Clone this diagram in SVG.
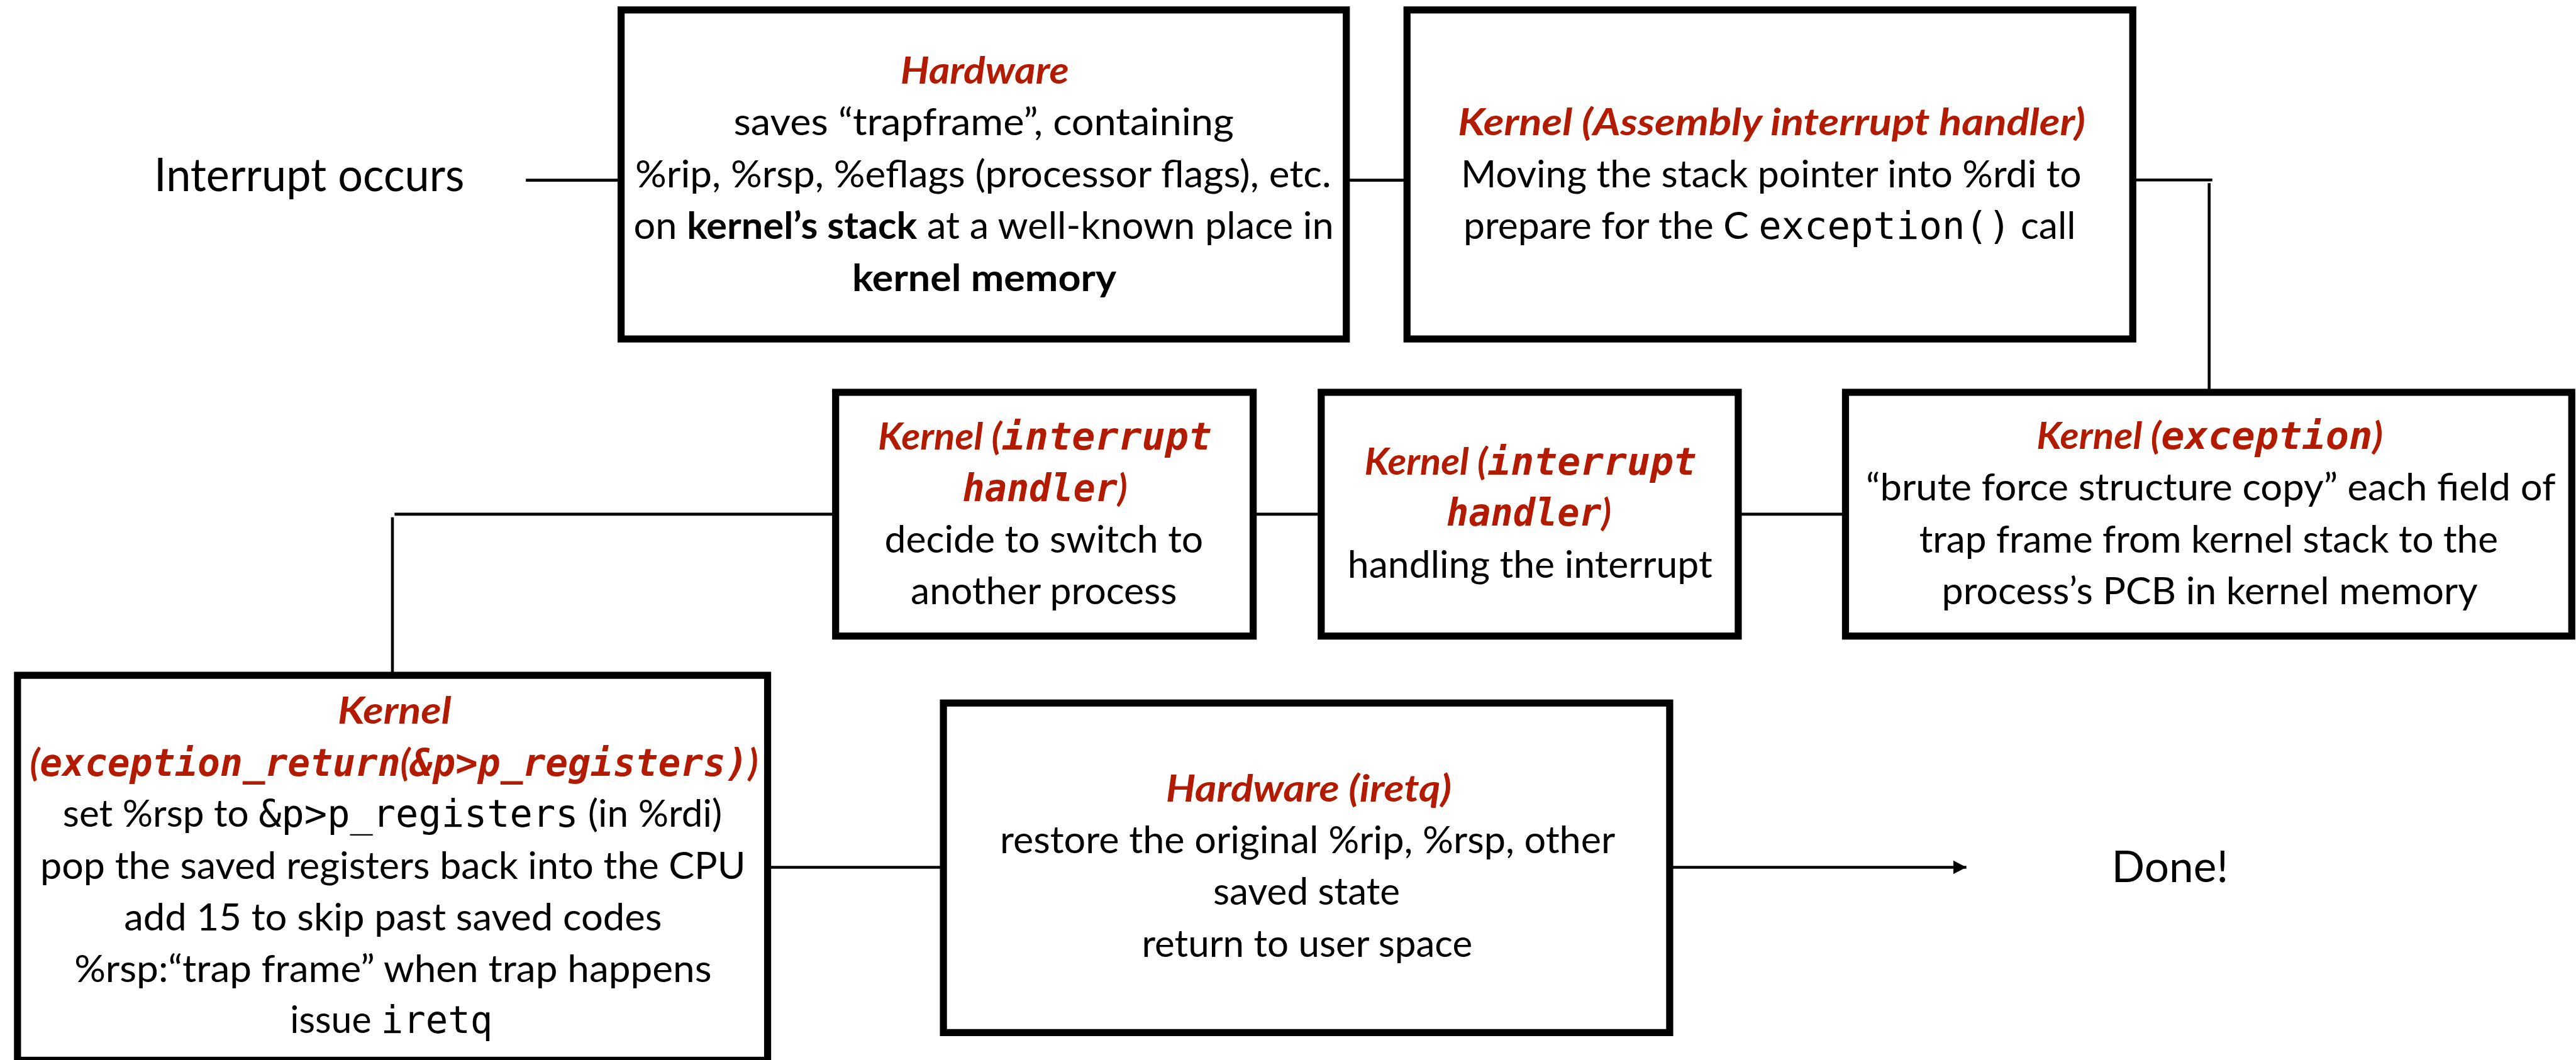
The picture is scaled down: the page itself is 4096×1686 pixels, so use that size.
<svg xmlns="http://www.w3.org/2000/svg" width="4096" height="1686" viewBox="0 0 4096 1686">
<style>
.box{fill:#fff;stroke:#000;stroke-width:13.5}
.conn{stroke:#000;stroke-width:5.5;fill:none}
.t{font-family:Lato,'Liberation Sans',sans-serif;font-size:72px;fill:#000;text-anchor:middle}
.big{font-size:88px}
.h{fill:#B31B00;font-weight:bold;font-style:italic}
.m{font-family:'DejaVu Sans Mono','Liberation Mono',monospace}
.b{font-weight:bold}
</style>
<defs>
<marker id="arr" markerUnits="userSpaceOnUse" markerWidth="25" markerHeight="26" refX="25" refY="13" orient="auto">
<path d="M0,0 L25,13 L0,26 Z" fill="#000"/>
</marker>
</defs>
<rect x="0" y="0" width="4096" height="1686" fill="#fff"/>
<g transform="scale(0.832)">
<g id="connectors">
<line class="conn" x1="1005" y1="344.5" x2="1182" y2="344.5"/>
<line class="conn" x1="2578" y1="344.5" x2="2684" y2="344.5"/>
<line class="conn" x1="4081" y1="344" x2="4228" y2="344"/>
<line class="conn" x1="4222" y1="350" x2="4222" y2="745"/>
<line class="conn" x1="3522" y1="983" x2="3327" y2="983"/>
<line class="conn" x1="2519" y1="983" x2="2400" y2="983"/>
<line class="conn" x1="1591" y1="983" x2="754" y2="983"/>
<line class="conn" x1="750" y1="989" x2="750" y2="1286"/>
<line class="conn" x1="1472" y1="1658" x2="1798" y2="1658"/>
<line class="conn" x1="3196" y1="1658" x2="3758" y2="1658" marker-end="url(#arr)"/>
</g>
<g id="start">
<text class="t big" x="591" y="365" textLength="593" lengthAdjust="spacingAndGlyphs">Interrupt occurs</text>
</g>
<g id="node-hardware">
<rect class="box" x="1187" y="19" width="1386" height="629"/>
<text class="t h" x="1882" y="160" textLength="322" lengthAdjust="spacingAndGlyphs">Hardware</text>
<text class="t" x="1880" y="259" textLength="956" lengthAdjust="spacingAndGlyphs">saves “trapframe”, containing</text>
<text class="t" x="1879" y="358" textLength="1330" lengthAdjust="spacingAndGlyphs">%rip, %rsp, %eflags (processor flags), etc.</text>
<text class="t" x="1880" y="457" textLength="1338" lengthAdjust="spacingAndGlyphs">on <tspan class="b">kernel’s stack</tspan> at a well-known place in</text>
<text class="t b" x="1881" y="556" textLength="505" lengthAdjust="spacingAndGlyphs">kernel memory</text>
</g>
<g id="node-asm">
<rect class="box" x="2689" y="19" width="1387" height="629"/>
<text class="t h" x="3386" y="259" textLength="1199" lengthAdjust="spacingAndGlyphs">Kernel (Assembly interrupt handler)</text>
<text class="t" x="3385" y="358" textLength="1186" lengthAdjust="spacingAndGlyphs">Moving the stack pointer into %rdi to</text>
<text class="t" x="3382" y="457" textLength="1170" lengthAdjust="spacingAndGlyphs">prepare for the C <tspan class="m">exception()</tspan> call</text>
</g>
<g id="node-exception">
<rect class="box" x="3527" y="750" width="1388" height="466"/>
<text class="t h" x="4223" y="858" textLength="662" lengthAdjust="spacingAndGlyphs">Kernel (<tspan class="m">exception</tspan>)</text>
<text class="t" x="4225" y="957" textLength="1318" lengthAdjust="spacingAndGlyphs">“brute force structure copy” each field of</text>
<text class="t" x="4221" y="1056" textLength="1106" lengthAdjust="spacingAndGlyphs">trap frame from kernel stack to the</text>
<text class="t" x="4223" y="1155" textLength="1024" lengthAdjust="spacingAndGlyphs">process’s PCB in kernel memory</text>
</g>
<g id="node-handling">
<rect class="box" x="2525" y="750" width="797" height="466"/>
<text class="t h" x="2925" y="907" textLength="635" lengthAdjust="spacingAndGlyphs">Kernel (<tspan class="m">interrupt</tspan></text>
<text class="t h" x="2922" y="1005" textLength="315" lengthAdjust="spacingAndGlyphs"><tspan class="m">handler</tspan>)</text>
<text class="t" x="2924" y="1104" textLength="697" lengthAdjust="spacingAndGlyphs">handling the interrupt</text>
</g>
<g id="node-decide">
<rect class="box" x="1597" y="750" width="798" height="466"/>
<text class="t h" x="1997" y="859" textLength="638" lengthAdjust="spacingAndGlyphs">Kernel (<tspan class="m">interrupt</tspan></text>
<text class="t h" x="1997" y="958" textLength="315" lengthAdjust="spacingAndGlyphs"><tspan class="m">handler</tspan>)</text>
<text class="t" x="1995" y="1056" textLength="609" lengthAdjust="spacingAndGlyphs">decide to switch to</text>
<text class="t" x="1995" y="1155" textLength="509" lengthAdjust="spacingAndGlyphs">another process</text>
</g>
<g id="node-return">
<rect class="box" x="33.5" y="1291" width="1433.5" height="736"/>
<text class="t h" x="754" y="1384" textLength="217" lengthAdjust="spacingAndGlyphs">Kernel</text>
<text class="t h" x="753" y="1483" textLength="1392" lengthAdjust="spacingAndGlyphs">(<tspan class="m">exception_return</tspan>(<tspan class="m">&amp;p&gt;p_registers)</tspan>)</text>
<text class="t" x="750" y="1581" textLength="1260" lengthAdjust="spacingAndGlyphs">set %rsp to <tspan class="m">&amp;p&gt;p_registers</tspan> (in %rdi)</text>
<text class="t" x="751" y="1680" textLength="1348" lengthAdjust="spacingAndGlyphs">pop the saved registers back into the CPU</text>
<text class="t" x="751" y="1779" textLength="1028" lengthAdjust="spacingAndGlyphs">add 15 to skip past saved codes</text>
<text class="t" x="751" y="1878" textLength="1218" lengthAdjust="spacingAndGlyphs">%rsp:“trap frame” when trap happens</text>
<text class="t" x="748" y="1975" textLength="387" lengthAdjust="spacingAndGlyphs">issue <tspan class="m">iretq</tspan></text>
</g>
<g id="node-iretq">
<rect class="box" x="1803" y="1344" width="1388" height="630"/>
<text class="t h" x="2501" y="1532" textLength="546" lengthAdjust="spacingAndGlyphs">Hardware (iretq)</text>
<text class="t" x="2499" y="1631" textLength="1176" lengthAdjust="spacingAndGlyphs">restore the original %rip, %rsp, other</text>
<text class="t" x="2497" y="1730" textLength="357" lengthAdjust="spacingAndGlyphs">saved state</text>
<text class="t" x="2498" y="1829" textLength="632" lengthAdjust="spacingAndGlyphs">return to user space</text>
</g>
<g id="end">
<text class="t" style="font-size:84px" x="4147" y="1686" textLength="223" lengthAdjust="spacingAndGlyphs">Done!</text>
</g>
</g>
</svg>
